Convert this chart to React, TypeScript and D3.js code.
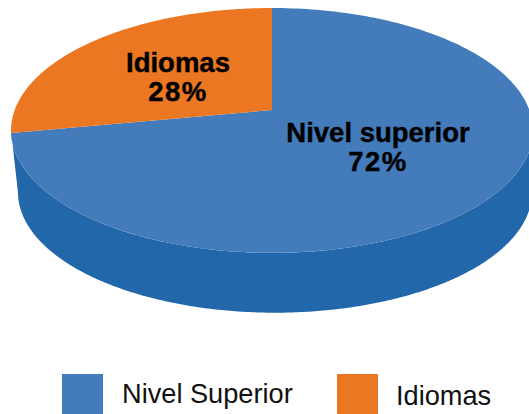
import React from "react";
import * as d3 from "d3";

const categories = ["Nivel superior", "Idiomas"];
const legendLabels = ["Nivel Superior", "Idiomas"];
const values = [72, 28];
const faceColors = ["#447bbb", "#ec7723"];
const sideColor = "#2167a9";

const W = 529, H = 414;
const apexX = 272, apexY = 110;
const a = 257.3, b = 119, p = 0.167;
const depth = 62, bottomScale = 0.985;

// Perspective projection of a point of the unit disc onto the screen
function project(t: number, scale = 1, dy = 0, dx = 0): [number, number] {
  const u = Math.sin(t), v = Math.cos(t);
  const w = 1 + p * v;
  return [apexX + dx + (scale * a * u) / w, apexY + dy - (scale * b * v) / w];
}

const slices = d3.pie<number>().sort(null)(values);
const line = d3.line<[number, number]>();

function slicePath(s0: number, s1: number) {
  const pts = d3.range(0, 201).map((i) => project(s0 + ((s1 - s0) * i) / 200));
  return line([[apexX, apexY], ...pts])! + "Z";
}

function sidePath() {
  const from = Math.acos(-p), to = 2 * Math.PI - Math.acos(-p);
  const ts = d3.range(0, 301).map((i) => from + ((to - from) * i) / 300);
  const topPts = ts.map((t) => project(t));
  const botPts = ts.map((t) => project(t, bottomScale, depth, 3)).reverse();
  return line([...topPts, ...botPts])! + "Z";
}

const labels = [
  { x: 378, y: 142, size: 27.5 },
  { x: 178, y: 72, size: 27.5 },
];

export default function App() {
  return (
    <svg width={W} height={H} viewBox={`0 0 ${W} ${H}`} style={{ position: "absolute", left: 0, top: 0, background: "#fff" }}>
      <path d={sidePath()} fill={sideColor} />
      {slices.map((s, i) => (
        <path key={i} d={slicePath(s.startAngle, s.endAngle)} fill={faceColors[i]} />
      ))}
      {slices.map((s, i) => (
        <text key={i} textAnchor="middle" fontFamily="Liberation Sans" fontWeight="bold" fontSize={labels[i].size} fill="#000" stroke="#000" strokeWidth={0.4}>
          <tspan x={labels[i].x} y={labels[i].y}>{categories[i]}</tspan>
          <tspan x={labels[i].x} y={labels[i].y + 29} letterSpacing={1.5}>{values[i]}%</tspan>
        </text>
      ))}
      <rect x={62} y={374} width={41} height={40} fill={faceColors[0]} />
      <text x={122} y={403} fontFamily="Liberation Sans" fontSize={27.2} fill="#111">{legendLabels[0]}</text>
      <rect x={337} y={374} width={41} height={40} fill={faceColors[1]} />
      <text x={396} y={405} fontFamily="Liberation Sans" fontSize={27.2} fill="#111">{legendLabels[1]}</text>
    </svg>
  );
}
